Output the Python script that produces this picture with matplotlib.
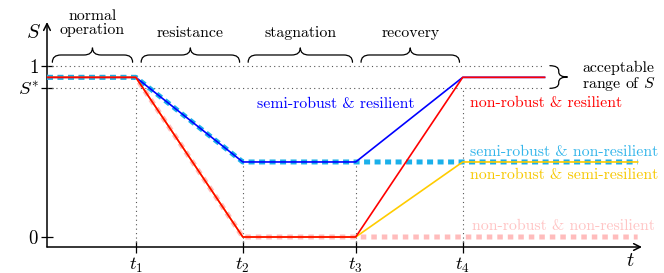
"""Resilience phases sketch: system performance S over time t."""

import matplotlib
matplotlib.use("Agg")

import matplotlib.pyplot as plt
from matplotlib.path import Path
from matplotlib.patches import PathPatch

plt.rcParams["font.family"] = "cmr10"
plt.rcParams["mathtext.fontset"] = "cm"
plt.rcParams["axes.unicode_minus"] = False

# event times and levels
t_marks = [0.83, 1.83, 2.885, 3.885]
t_labels = [r"$t_1$", r"$t_2$", r"$t_3$", r"$t_4$"]
t_short = 4.65   # resilient curves stop here
t_long = 5.52    # non-resilient curves run to the arrow
nominal = 0.932
s_star = 0.868
degraded = 0.438

x_short = [0, *t_marks, t_short]
x_long = [0, *t_marks, t_long]
semi_robust_resilient = [nominal, nominal, degraded, degraded, nominal, nominal]
non_robust_resilient = [nominal, nominal, 0, 0, nominal, nominal]
semi_robust_non_resilient = [nominal, nominal, degraded, degraded, degraded, degraded]
non_robust_semi_resilient = [nominal, nominal, 0, 0, degraded, degraded]
non_robust_non_resilient = [nominal, nominal, 0, 0, 0, 0]

phases = ["normal\noperation", "resistance", "stagnation", "recovery"]

BLUE = "#0000ff"
RED = "#ff0000"
CYAN = "#1ab0ea"
GOLD = "#ffcc00"
PINK = "#ffbcbc"


def brace(ax, a, b, base, h, r, vertical=False, lw=0.9):
    """Curly brace along a..b; tip points away from base by h."""
    L = b - a
    m = L / 2
    pts = [(0, 0), (0, h / 2), (r, h / 2), (m - r, h / 2), (m, h / 2), (m, h),
           (m, h / 2), (m + r, h / 2), (L - r, h / 2), (L, h / 2), (L, 0)]
    codes = [Path.MOVETO, Path.CURVE3, Path.CURVE3, Path.LINETO, Path.CURVE3,
             Path.CURVE3, Path.CURVE3, Path.CURVE3, Path.LINETO, Path.CURVE3,
             Path.CURVE3]
    if vertical:
        verts = [(base + v, b - u) for u, v in pts]
    else:
        verts = [(a + u, base + v) for u, v in pts]
    ax.add_patch(PathPatch(Path(verts, codes), fill=False, lw=lw,
                           color="black", clip_on=False, capstyle="round"))


fig = plt.figure(figsize=(6.64, 2.73), dpi=100)
ax = fig.add_axes([47 / 664, 26 / 273, (642 - 47) / 664, (247 - 22) / 273])
ax.set_xlim(0, (642 - 47) / 107)
ax.set_ylim(-10 / 171.3, (237 - 22) / 171.3)

for side in ["top", "right", "left", "bottom"]:
    ax.spines[side].set_visible(False)

# axes with arrow heads
ax.annotate("", xy=(1, 0), xytext=(0, 0), xycoords="axes fraction",
            arrowprops=dict(arrowstyle="->", lw=1.1, color="black",
                            shrinkA=0, shrinkB=0, mutation_scale=12))
ax.annotate("", xy=(0, 1), xytext=(0, 0), xycoords="axes fraction",
            arrowprops=dict(arrowstyle="->", lw=1.1, color="black",
                            shrinkA=0, shrinkB=0, mutation_scale=12))

ax.set_xticks(t_marks)
ax.set_xticklabels(t_labels, fontsize=13.5)
ax.set_yticks([0, s_star, 1])
ax.set_yticklabels(["$0$", "$S^{*}$", "$1$"], fontsize=13.5)
ax.tick_params(direction="inout", length=8, width=0.9, pad=2)

ax.text(-0.13, 1.19, "$S$", fontsize=14.5, ha="center", va="center",
        transform=ax.transData)
ax.text(5.45, -0.14, "$t$", fontsize=14.5, ha="center", va="center")

# reference lines
dot = dict(color="#555555", lw=0.8, linestyle=(0, (1, 3)))
ax.plot([0, t_short - 0.02], [1, 1], **dot)
ax.plot([0, t_short - 0.02], [s_star, s_star], **dot)
for tm, top in zip(t_marks, [s_star, degraded, degraded, s_star]):
    ax.plot([tm, tm], [ax.get_ylim()[0], top], **dot)

# curves
ax.plot(x_long, non_robust_non_resilient, color=PINK, lw=3.6,
        dashes=(1.1, 1.0), dash_capstyle="butt", zorder=3)
ax.plot(x_long, semi_robust_non_resilient, color=CYAN, lw=3.6,
        dashes=(1.2, 0.9), dash_capstyle="butt", zorder=4)
ax.plot(x_short, semi_robust_resilient, color=BLUE, lw=1.2, zorder=5)
ax.plot(x_long, non_robust_semi_resilient, color=GOLD, lw=1.2, zorder=6)
ax.plot(x_short, non_robust_resilient, color=RED, lw=1.2, zorder=7)

# curve labels
fs = 11.4
ax.text(2.70, 0.776, "semi-robust & resilient", color=BLUE, fontsize=fs,
        ha="center", va="center")
ax.text(3.95, 0.782, "non-robust & resilient", color=RED, fontsize=fs,
        ha="left", va="center")
ax.text(3.95, 0.496, "semi-robust & non-resilient", color="#33b5ea",
        fontsize=fs, ha="left", va="center")
ax.text(3.95, 0.362, "non-robust & semi-resilient", color="#f7c800",
        fontsize=fs, ha="left", va="center")
ax.text(3.97, 0.064, "non-robust & non-resilient", color="#ffc4c4",
        fontsize=fs, ha="left", va="center")

# phase braces and labels
edges = [0, *t_marks]
for i, name in enumerate(phases):
    a, b = edges[i] + 0.05, edges[i + 1] - 0.03
    brace(ax, a, b, 1.02, 0.085, 0.08)
    ax.text((a + b) / 2, 1.19 if i else 1.25, name, fontsize=fs,
            ha="center", va="center", linespacing=1.0)

# acceptable range brace
brace(ax, s_star, 1.0, 4.70, 0.165, 0.03, vertical=True)
ax.text(5.0, 0.934, "acceptable\nrange of $S$", fontsize=fs, ha="left",
        va="center", linespacing=1.0)

fig.savefig("out.png", dpi=100)
